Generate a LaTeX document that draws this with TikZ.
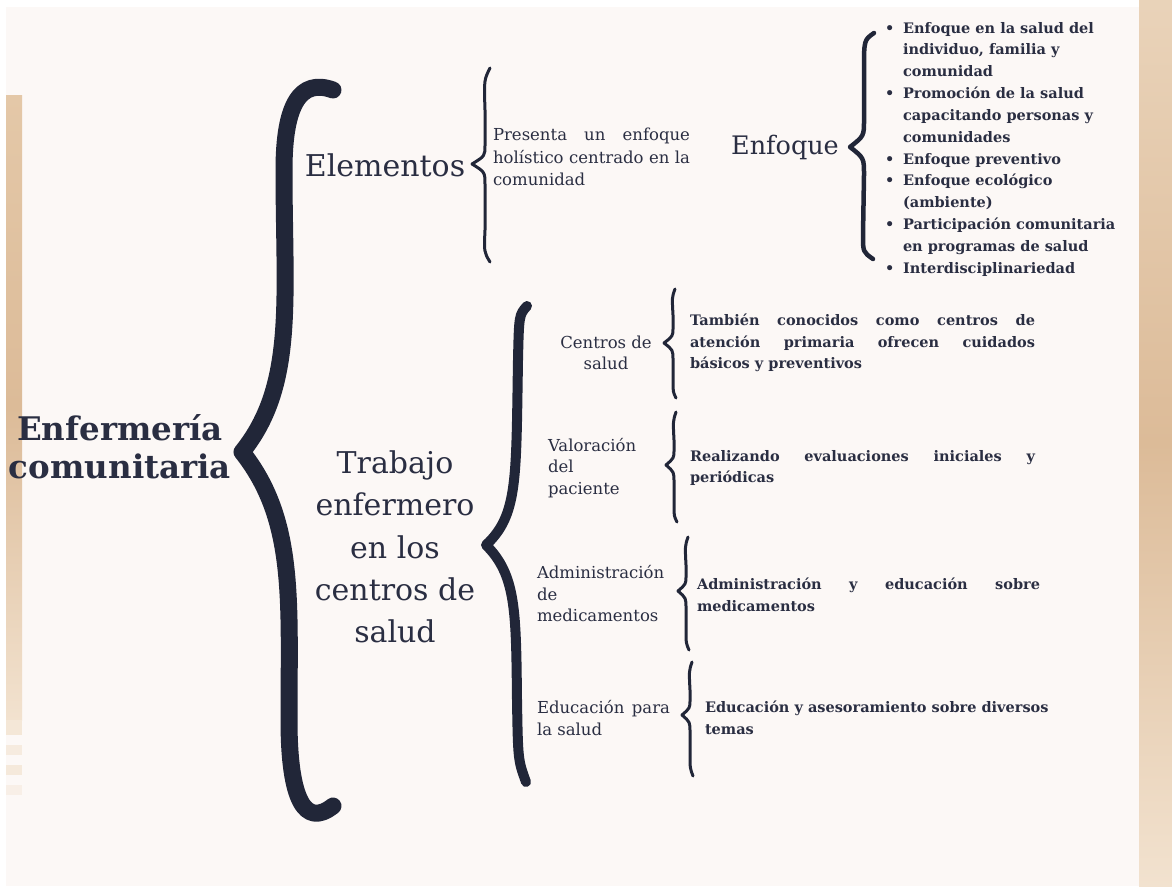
\documentclass[tikz,border=0pt]{standalone}
\usepackage{fontspec}
\setmainfont{DejaVu Serif}
\lefthyphenmin=64
\definecolor{bgc}{HTML}{FCF8F6}
\definecolor{ink}{HTML}{2A2E42}
\definecolor{brc}{HTML}{212638}
\definecolor{beigeA}{HTML}{E4C8A8}
\definecolor{beigeB}{HTML}{DCBB98}
\definecolor{beigeC}{HTML}{F2E2CF}
\tikzset{
  txt/.style={text=ink, inner sep=0pt, outer sep=0pt},
  bigbrace/.style={draw=brc, line width=17pt, line cap=round, line join=round},
  midbrace/.style={draw=brc, line width=10pt, line cap=round, line join=round},
  thinbrace/.style={draw=brc, line width=3pt, line cap=round, line join=round},
  enfbrace/.style={draw=brc, line width=4.5pt, line cap=round, line join=round},
  lab/.style={txt, font=\fontsize{16.5}{21.5}\selectfont},
  boldtxt/.style={txt, font=\fontsize{14.5}{21.5}\selectfont\bfseries, align=left},
}
\begin{document}
\begin{tikzpicture}[x=1pt,y=-1pt]
\useasboundingbox (0,0) rectangle (1172,886);
\fill[white] (0,0) rectangle (1172,886);
\fill[bgc] (6,7) rectangle (1139,886);
% decorative strips
\shade[top color=beigeA, bottom color=beigeC, middle color=beigeB] (6,95) rectangle (22,720);
\fill[beigeC!80!bgc] (6,720) rectangle (22,735);
\fill[beigeC!60!bgc] (6,745) rectangle (22,755);
\fill[beigeC!70!bgc] (6,765) rectangle (22,775);
\fill[beigeC!40!bgc] (6,785) rectangle (22,795);
\shade[top color=beigeA!80!white, bottom color=beigeC, middle color=beigeB] (1139,0) rectangle (1172,886);

% root
\node[txt, font=\fontsize{32.5}{38}\selectfont\bfseries, align=center] (root) at (120,447) {Enfermería\\comunitaria};

% big brace
\draw[bigbrace] (333,90) .. controls (300,78) and (284,105) .. (284,170)
  .. controls (284,300) and (296,385) .. (242,452)
  .. controls (296,520) and (289,600) .. (289,720)
  .. controls (289,800) and (305,828) .. (333,806);

% Elementos
\node[txt, font=\fontsize{30}{34}\selectfont] (elem) at (385,165) {Elementos};
\draw[thinbrace] (490,68) .. controls (484,80) .. (485,110) -- (485,145)
  .. controls (485,156) .. (472,164) .. controls (485,172) .. (485,185)
  -- (485,230) .. controls (484,252) .. (490,262);
\node[txt, font=\fontsize{16.5}{22.5}\selectfont, anchor=west, align=left] (pres) at (493,157)
  {\makebox[197pt][s]{Presenta un enfoque}\\\makebox[197pt][s]{holístico centrado en la}\\comunidad};

% Enfoque
\node[txt, font=\fontsize{25.5}{30}\selectfont] (enf) at (785,147) {Enfoque};
\draw[enfbrace] (874,33) .. controls (864,40) .. (864,70) -- (864,120)
  .. controls (864,136) .. (850,147) .. controls (864,158) .. (864,175)
  -- (863,235) .. controls (863,252) .. (873,259);
\node[boldtxt, anchor=north west, font=\fontsize{14.5}{21.85}\selectfont\bfseries] (list) at (885,22)
  {\makebox[18pt][l]{•}Enfoque en la salud del\\
   \hspace*{18pt}individuo, familia y\\
   \hspace*{18pt}comunidad\\
   \makebox[18pt][l]{•}Promoción de la salud\\
   \hspace*{18pt}capacitando personas y\\
   \hspace*{18pt}comunidades\\
   \makebox[18pt][l]{•}Enfoque preventivo\\
   \makebox[18pt][l]{•}Enfoque ecológico\\
   \hspace*{18pt}(ambiente)\\
   \makebox[18pt][l]{•}Participación comunitaria\\
   \hspace*{18pt}en programas de salud\\
   \makebox[18pt][l]{•}Interdisciplinariedad};

% Trabajo
\node[txt, font=\fontsize{30}{42.2}\selectfont, align=center] (trab) at (395,547)
  {Trabajo\\enfermero\\en los\\centros de\\salud};
\draw[midbrace] (527,306) .. controls (519,315) .. (518,360)
  .. controls (516,480) and (518,515) .. (486,545)
  .. controls (516,575) and (516,610) .. (517,700)
  .. controls (518,760) .. (526,782);

% Centros de salud
\node[lab, align=center] (c1) at (606,353) {Centros de\\salud};
\draw[thinbrace] (675,289) .. controls (672,297) .. (673,315) -- (673,328)
  .. controls (673,336) .. (664,343) .. controls (673,350) .. (673,360)
  -- (673,380) .. controls (673,392) .. (676,398);
\node[boldtxt, anchor=west] (d1) at (690,343)
  {\makebox[345pt][s]{También conocidos como centros de}\\\makebox[345pt][s]{atención primaria ofrecen cuidados}\\básicos y preventivos};

% Valoracion
\node[lab, align=left, anchor=west] (c2) at (548,468) {Valoración\\del\\paciente};
\draw[thinbrace] (676,412) .. controls (673,421) .. (674,440) -- (674,450)
  .. controls (674,458) .. (666,465) .. controls (674,472) .. (674,482)
  -- (674,505) .. controls (674,516) .. (677,522);
\node[boldtxt, anchor=west] (d2) at (690,468)
  {\makebox[345pt][s]{Realizando evaluaciones iniciales y}\\periódicas};

% Administracion
\node[lab, align=left, anchor=west] (c3) at (537,594) {Administración\\de\\medicamentos};
\draw[thinbrace] (688,537) .. controls (685,546) .. (686,565) -- (686,576)
  .. controls (686,584) .. (678,591) .. controls (686,598) .. (686,608)
  -- (686,630) .. controls (686,643) .. (689,650);
\node[boldtxt, anchor=west] (d3) at (697,595)
  {\makebox[343pt][s]{Administración y educación sobre}\\medicamentos};

% Educacion
\node[lab, align=left, anchor=west] (c4) at (537,718) {\makebox[133pt][s]{Educación para}\\la salud};
\draw[thinbrace] (692,662) .. controls (689,671) .. (690,690) -- (690,700)
  .. controls (690,708) .. (682,715) .. controls (690,722) .. (690,732)
  -- (690,755) .. controls (690,768) .. (693,776);
\node[boldtxt, anchor=west] (d4) at (705,718)
  {Educación y asesoramiento sobre diversos\\temas};
\end{tikzpicture}
\end{document}
